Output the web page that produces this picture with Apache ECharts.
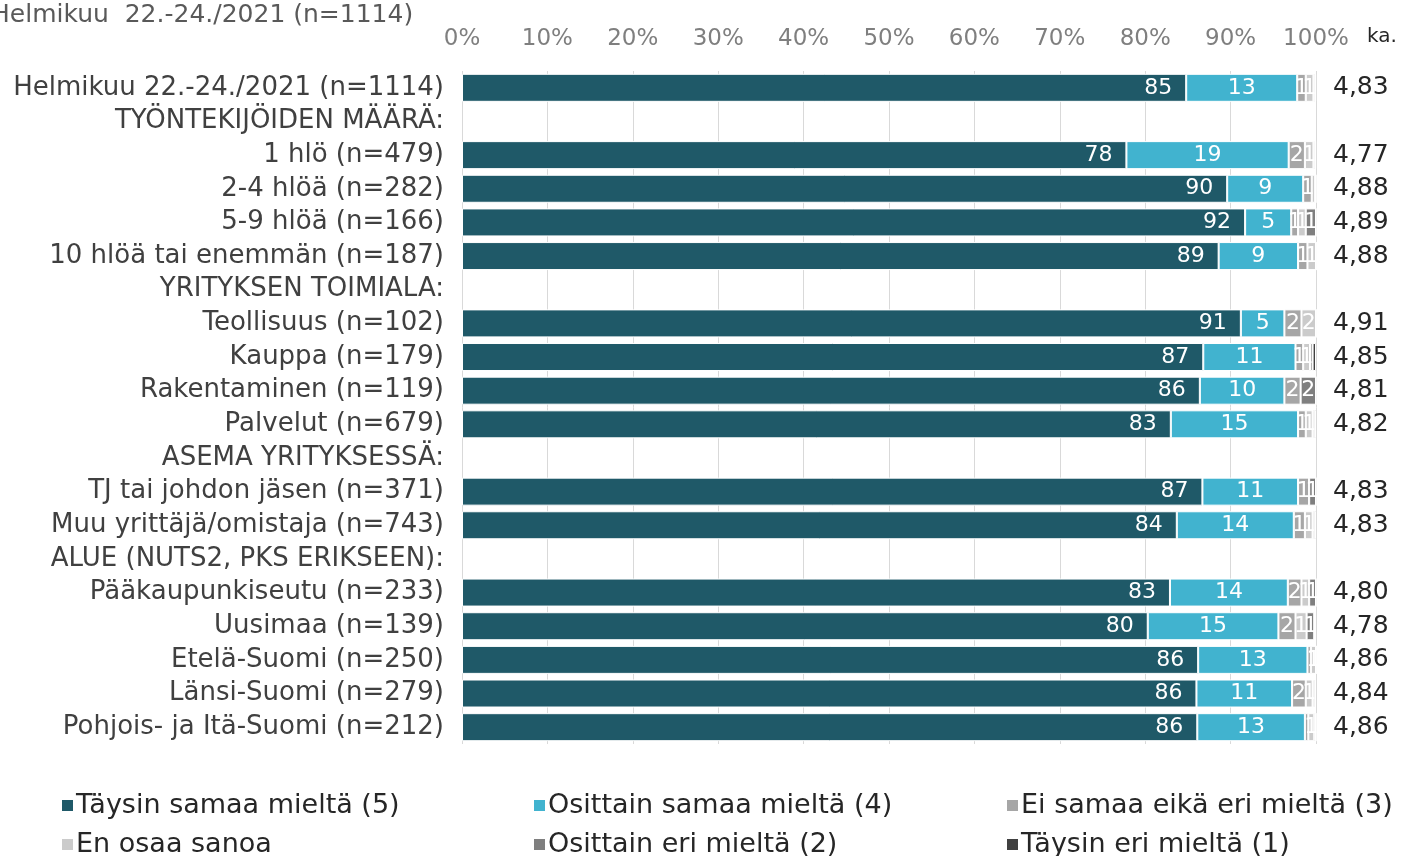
<!DOCTYPE html>
<html lang="fi">
<head>
    <meta charset="UTF-8">
    <title>Helmikuu 22.-24./2021</title>
    <script src="https://cdn.jsdelivr.net/npm/echarts@6/dist/echarts.min.js"></script>
    <style>
        html, body { margin: 0; padding: 0; background: #fff; }
    </style>
</head>
<body>
<div id="main" style="width: 1404px;height: 856px;"></div>

<script type="text/javascript">
    // rivit (otsikkorivit ilman palkkia)
    var categories = [
        'Helmikuu 22.-24./2021 (n=1114)', 'TYÖNTEKIJÖIDEN MÄÄRÄ:',
        '1 hlö (n=479)', '2-4 hlöä (n=282)', '5-9 hlöä (n=166)', '10 hlöä tai enemmän (n=187)',
        'YRITYKSEN TOIMIALA:',
        'Teollisuus (n=102)', 'Kauppa (n=179)', 'Rakentaminen (n=119)', 'Palvelut (n=679)',
        'ASEMA YRITYKSESSÄ:',
        'TJ tai johdon jäsen (n=371)', 'Muu yrittäjä/omistaja (n=743)',
        'ALUE (NUTS2, PKS ERIKSEEN):',
        'Pääkaupunkiseutu (n=233)', 'Uusimaa (n=139)', 'Etelä-Suomi (n=250)',
        'Länsi-Suomi (n=279)', 'Pohjois- ja Itä-Suomi (n=212)'
    ];

    var seriesNames = ['Täysin samaa mieltä (5)', 'Osittain samaa mieltä (4)', 'Ei samaa eikä eri mieltä (3)',
        'En osaa sanoa', 'Osittain eri mieltä (2)', 'Täysin eri mieltä (1)'];

    // osuudet %
    var taysinSamaa   = [84.8, null, 77.8, 89.6, 91.7, 88.6, null, 91.2, 86.8, 86.4, 83.0, null, 86.7, 83.7, null, 82.9, 80.3, 86.2, 86.0, 86.1];
    var osittainSamaa = [13.0, null, 19.0, 8.9, 5.4, 9.3, null, 5.1, 10.8, 9.9, 14.9, null, 11.2, 13.7, null, 13.8, 15.3, 12.8, 11.2, 12.6];
    var eiSamaaEiEri  = [1.0, null, 1.9, 1.0, 0.8, 1.1, null, 2.0, 0.9, 1.9, 0.9, null, 1.3, 1.3, null, 1.6, 2.0, 0.4, 1.6, 0.4];
    var enOsaa        = [0.9, null, 1.0, 0.4, 0.9, 1.0, null, 1.7, 0.8, 0, 0.8, null, 0, 0.9, null, 0.9, 1.3, 0.6, 0.8, 0.7];
    var osittainEri   = [0.2, null, 0.2, 0.1, 1.2, 0, null, 0, 0.3, 1.8, 0.2, null, 0.8, 0.2, null, 0.8, 0.9, 0, 0.2, 0.2];
    var taysinEri     = [0.1, null, 0.1, 0, 0, 0, null, 0, 0.4, 0, 0.2, null, 0, 0.2, null, 0, 0, 0, 0.2, 0];

    // keskiarvot (ka.)
    var averages = ['4,83', '', '4,77', '4,88', '4,89', '4,88', '', '4,91', '4,85', '4,81', '4,82', '',
        '4,83', '4,83', '', '4,80', '4,78', '4,86', '4,84', '4,86'];

    var colors = ['#1f5968', '#41b3cf', '#a6a6a6', '#cbcbcb', '#7f7f7f', '#404040'];
    var allData = [taysinSamaa, osittainSamaa, eiSamaaEiEri, enOsaa, osittainEri, taysinEri];

    var font = 'DejaVu Sans, Verdana, sans-serif';

    var myChart = echarts.init(document.getElementById('main'));

    var series = allData.map(function (d, i) {
        return {
            name: seriesNames[i],
            type: 'bar',
            stack: 'kaikki',
            barWidth: 28,
            data: d,
            itemStyle: {color: colors[i], borderColor: '#fff', borderWidth: 1},
            label: {
                show: true,
                position: i === 0 ? 'insideRight' : 'inside',
                distance: 14,
                color: '#fff',
                fontFamily: font,
                fontSize: 22,
                formatter: function (p) {
                    return p.value >= 0.5 ? Math.round(p.value) : '';
                }
            }
        };
    });

    // legenda kolmeen sarakkeeseen
    var legendPos = [[55, 787], [527, 787], [1000, 787], [55, 826], [527, 826], [1000, 826]];
    var legends = seriesNames.map(function (n, i) {
        return {
            data: [n],
            left: legendPos[i][0],
            top: legendPos[i][1],
            icon: 'rect',
            itemWidth: 13,
            itemHeight: 13,
            itemGap: 6,
            selectedMode: false,
            textStyle: {fontFamily: font, fontSize: 27, color: '#262626', padding: [0, 0, 0, -3]}
        };
    });

    var option = {
        animation: false,
        backgroundColor: '#fff',
        legend: legends,
        grid: {left: 462, right: 88, top: 71, bottom: 112},
        xAxis: {
            type: 'value',
            position: 'top',
            min: 0,
            max: 100,
            interval: 10,
            axisLine: {show: false},
            axisTick: {show: false},
            splitLine: {lineStyle: {color: '#d9d9d9', width: 1}},
            axisLabel: {
                formatter: '{value}%',
                fontFamily: font,
                fontSize: 23,
                color: '#7f7f7f',
                margin: 20
            }
        },
        yAxis: [{
            type: 'category',
            data: categories,
            inverse: true,
            axisLine: {show: false},
            axisTick: {show: false},
            axisLabel: {interval: 0, fontFamily: font, fontSize: 26, color: '#404040', margin: 18}
        }, {
            type: 'category',
            data: averages,
            inverse: true,
            position: 'right',
            axisLine: {show: false},
            axisTick: {show: false},
            axisLabel: {interval: 0, fontFamily: font, fontSize: 25, color: '#262626', margin: 17}
        }],
        graphic: [{
            type: 'text',
            left: -9,
            top: 3,
            style: {text: 'Helmikuu  22.-24./2021 (n=1114)', font: '25px DejaVu Sans, Verdana, sans-serif', fill: '#595959'}
        }, {
            type: 'text',
            left: 1367,
            top: 27,
            style: {text: 'ka.', font: '20px DejaVu Sans, Verdana, sans-serif', fill: '#262626'}
        }],
        series: series
    };

    myChart.setOption(option);
</script>
</body>
</html>
